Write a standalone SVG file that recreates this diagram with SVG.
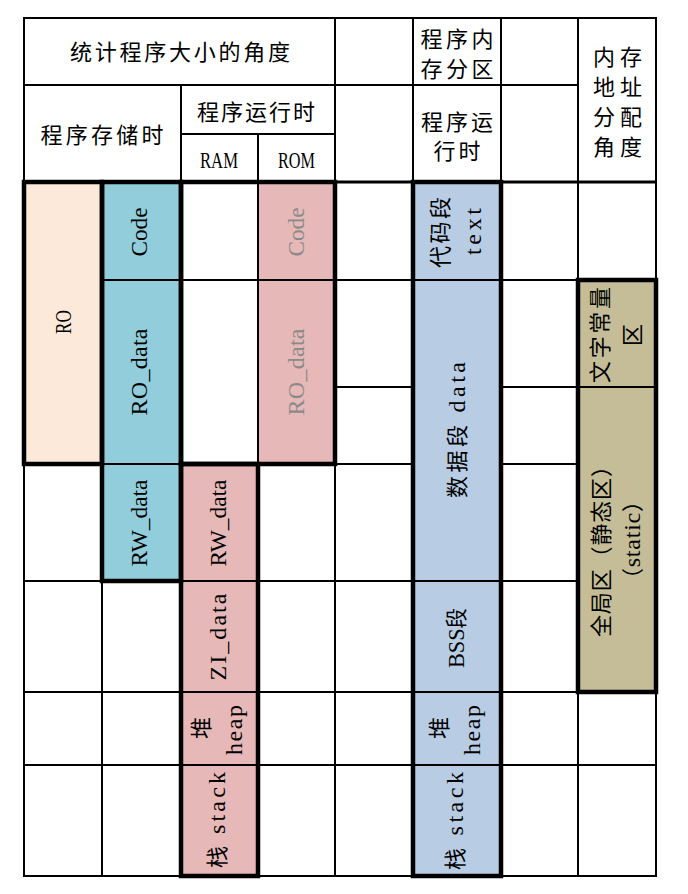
<svg xmlns="http://www.w3.org/2000/svg" width="688" height="894" viewBox="0 0 688 894">
<style>
.c{stroke:#000;stroke-width:2;fill:#fff}
.pe{fill:#FDE9D9}.bl{fill:#92CDDC}.pk{fill:#E6B8B7}.lb{fill:#B8CCE4}.ol{fill:#C4BD97}
.tk{fill:none;stroke:#000;stroke-width:4.5}
text{font-family:'Liberation Serif','Noto Sans CJK SC',serif;font-size:22px;fill:#000;text-anchor:middle;dominant-baseline:central}
.l{font-size:24px}
.g{fill:#8a8a8a}
</style>
<rect width="688" height="894" fill="#fff"/>
<g id="header">
<g id="h-stat"><rect class="c" x="24" y="18" width="311" height="67"/><text x="180" y="52" textLength="220">统计程序大小的角度</text></g>
<g id="h-e1"><rect class="c" x="335" y="18" width="78" height="67"/></g>
<g id="h-part"><rect class="c" x="413" y="18" width="88" height="67"/><text x="457" y="39" textLength="73">程序内</text><text x="457" y="69" textLength="73">存分区</text></g>
<g id="h-g1"><rect class="c" x="501" y="18" width="77" height="67"/></g>
<g id="h-addr"><rect class="c" x="578" y="18" width="78" height="164"/><text x="617.5" y="57" textLength="49">内存</text><text x="617.5" y="87" textLength="49">地址</text><text x="617.5" y="117" textLength="49">分配</text><text x="617.5" y="147" textLength="49">角度</text></g>
<g id="h-store"><rect class="c" x="24" y="85" width="157" height="97"/><text x="102" y="135" textLength="123">程序存储时</text></g>
<g id="h-run"><rect class="c" x="181" y="85" width="154" height="49"/><text x="256" y="112" textLength="118">程序运行时</text></g>
<g id="h-ram"><rect class="c" x="181" y="134" width="77" height="48"/><text class="l" x="219" y="160" textLength="38" lengthAdjust="spacingAndGlyphs">RAM</text></g>
<g id="h-rom"><rect class="c" x="258" y="134" width="77" height="48"/><text class="l" x="296.5" y="160" textLength="37" lengthAdjust="spacingAndGlyphs">ROM</text></g>
<g id="h-e2"><rect class="c" x="335" y="85" width="78" height="97"/></g>
<g id="h-run2"><rect class="c" x="413" y="85" width="88" height="97"/><text x="457" y="122" textLength="72">程序运</text><text x="457" y="151" textLength="47">行时</text></g>
<g id="h-g2"><rect class="c" x="501" y="85" width="77" height="97"/></g>
</g>
<g id="colA">
<g id="RO"><rect class="c pe" x="24" y="182" width="78" height="282"/><text class="l" transform="translate(62.5,322) rotate(-90)" textLength="24" lengthAdjust="spacingAndGlyphs">RO</text></g>
<rect class="c" x="24" y="464" width="78" height="117"/>
<rect class="c" x="24" y="581" width="78" height="111"/>
<rect class="c" x="24" y="692" width="78" height="73"/>
<rect class="c" x="24" y="765" width="78" height="111"/>
</g>
<g id="colB">
<g id="s-code"><rect class="c bl" x="102" y="182" width="79" height="98"/><text class="l" transform="translate(139,232) rotate(-90)" textLength="49" lengthAdjust="spacingAndGlyphs">Code</text></g>
<g id="s-rodata"><rect class="c bl" x="102" y="280" width="79" height="184"/><text class="l" transform="translate(139,372) rotate(-90)" textLength="87">RO_data</text></g>
<g id="s-rwdata"><rect class="c bl" x="102" y="464" width="79" height="117"/><text class="l" transform="translate(139,523) rotate(-90)" textLength="87" lengthAdjust="spacingAndGlyphs">RW_data</text></g>
<rect class="c" x="102" y="581" width="79" height="111"/>
<rect class="c" x="102" y="692" width="79" height="73"/>
<rect class="c" x="102" y="765" width="79" height="111"/>
</g>
<g id="colC">
<rect class="c" x="181" y="182" width="77" height="98"/>
<rect class="c" x="181" y="280" width="77" height="184"/>
<g id="ram-rw"><rect class="c pk" x="181" y="464" width="77" height="117"/><text class="l" transform="translate(218,523) rotate(-90)" textLength="87" lengthAdjust="spacingAndGlyphs">RW_data</text></g>
<g id="ram-zi"><rect class="c pk" x="181" y="581" width="77" height="111"/><text class="l" transform="translate(218,637) rotate(-90)" textLength="87">ZI_data</text></g>
<g id="ram-heap"><rect class="c pk" x="181" y="692" width="77" height="73"/><text transform="translate(201,728) rotate(-90)">堆</text><text class="l" transform="translate(234,730) rotate(-90)" textLength="50">heap</text></g>
<g id="ram-stack"><rect class="c pk" x="181" y="765" width="77" height="111"/><text transform="translate(217,820) rotate(-90)" textLength="96">栈 <tspan class="l">stack</tspan></text></g>
</g>
<g id="colD">
<g id="rom-code"><rect class="c pk" x="258" y="182" width="77" height="98"/><text class="l g" transform="translate(296,232) rotate(-90)" textLength="49" lengthAdjust="spacingAndGlyphs">Code</text></g>
<g id="rom-rodata"><rect class="c pk" x="258" y="280" width="77" height="184"/><text class="l g" transform="translate(296,372) rotate(-90)" textLength="87">RO_data</text></g>
<rect class="c" x="258" y="464" width="77" height="117"/>
<rect class="c" x="258" y="581" width="77" height="111"/>
<rect class="c" x="258" y="692" width="77" height="73"/>
<rect class="c" x="258" y="765" width="77" height="111"/>
</g>
<g id="colE">
<rect class="c" x="335" y="182" width="78" height="98"/>
<rect class="c" x="335" y="280" width="78" height="107"/>
<rect class="c" x="335" y="387" width="78" height="77"/>
<rect class="c" x="335" y="464" width="78" height="117"/>
<rect class="c" x="335" y="581" width="78" height="111"/>
<rect class="c" x="335" y="692" width="78" height="73"/>
<rect class="c" x="335" y="765" width="78" height="111"/>
</g>
<g id="colF">
<g id="text-seg"><rect class="c lb" x="413" y="182" width="88" height="98"/><text transform="translate(440,232.5) rotate(-90)" textLength="71">代码段</text><text class="l" transform="translate(473,231.5) rotate(-90)" textLength="47">text</text></g>
<g id="data-seg"><rect class="c lb" x="413" y="280" width="88" height="301"/><text transform="translate(457,430) rotate(-90)" textLength="136">数据段 <tspan class="l">data</tspan></text></g>
<g id="bss-seg"><rect class="c lb" x="413" y="581" width="88" height="111"/><text transform="translate(456,638) rotate(-90)" textLength="60" lengthAdjust="spacingAndGlyphs"><tspan class="l">BSS</tspan>段</text></g>
<g id="heap"><rect class="c lb" x="413" y="692" width="88" height="73"/><text transform="translate(439,728) rotate(-90)">堆</text><text class="l" transform="translate(472,730) rotate(-90)" textLength="50">heap</text></g>
<g id="stack"><rect class="c lb" x="413" y="765" width="88" height="111"/><text transform="translate(455,821) rotate(-90)" textLength="98">栈 <tspan class="l">stack</tspan></text></g>
</g>
<g id="colG">
<rect class="c" x="501" y="182" width="77" height="98"/>
<rect class="c" x="501" y="280" width="77" height="107"/>
<rect class="c" x="501" y="387" width="77" height="77"/>
<rect class="c" x="501" y="464" width="77" height="117"/>
<rect class="c" x="501" y="581" width="77" height="111"/>
<rect class="c" x="501" y="692" width="77" height="73"/>
<rect class="c" x="501" y="765" width="77" height="111"/>
</g>
<g id="colH">
<rect class="c" x="578" y="182" width="78" height="98"/>
<g id="const"><rect class="c ol" x="578" y="280" width="78" height="107"/><text transform="translate(600,335) rotate(-90)" textLength="96">文字常量</text><text transform="translate(632,335) rotate(-90)">区</text></g>
<g id="global"><rect class="c ol" x="578" y="387" width="78" height="305"/><text transform="translate(601,546) rotate(-90)" textLength="182">全局区（静态区）</text><text transform="translate(632,540) rotate(-90)" textLength="100">（<tspan class="l">static</tspan>）</text></g>
<rect class="c" x="578" y="692" width="78" height="73"/>
<rect class="c" x="578" y="765" width="78" height="111"/>
</g>
<g id="connectors">
<line x1="24" y1="182" x2="656" y2="182" stroke="#000" stroke-width="3"/>
<rect class="tk" x="24" y="182" width="78" height="282"/>
<rect class="tk" x="102" y="182" width="79" height="399"/>
<rect class="tk" x="181" y="182" width="154" height="282"/>
<rect class="tk" x="181" y="464" width="77" height="412"/>
<rect class="tk" x="413" y="182" width="88" height="694"/>
<rect class="tk" x="578" y="280" width="78" height="412"/>
</g>
</svg>
